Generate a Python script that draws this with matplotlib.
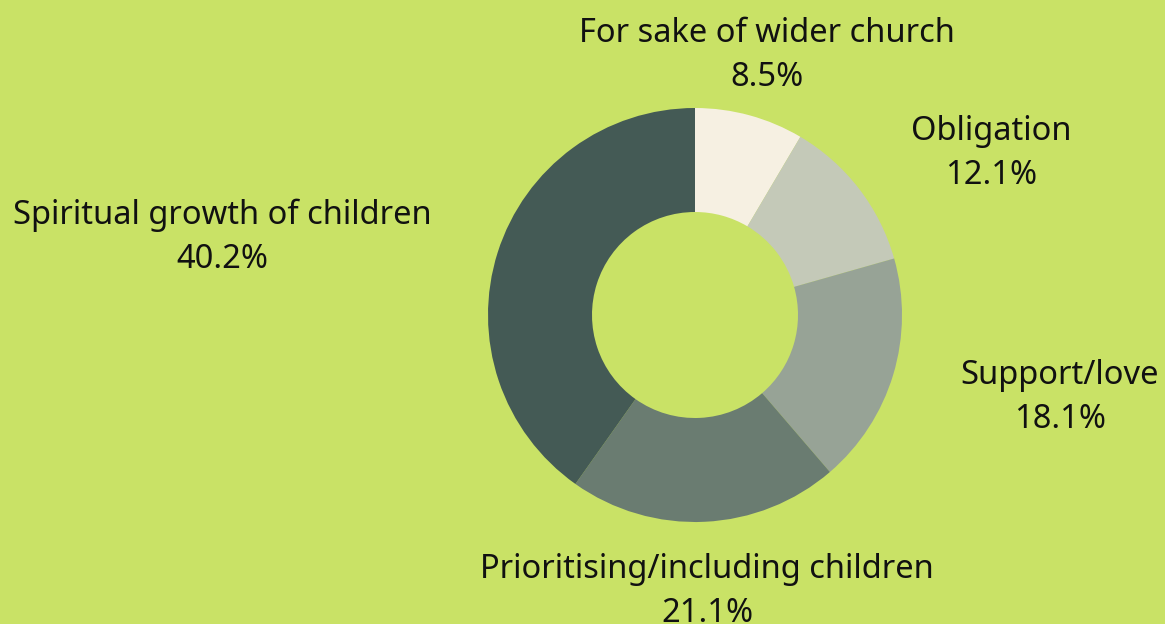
import matplotlib.pyplot as plt

labels = ['For sake of wider church', 'Obligation', 'Support/love',
          'Prioritising/including children', 'Spiritual growth of children']
shares = [8.5, 12.1, 18.1, 21.1, 40.2]
colors = ['#f6f0e2', '#c4c9b8', '#97a396', '#6a7c71', '#445a55']
bg = '#c9e266'

W, H = 1165, 624
fig = plt.figure(figsize=(W / 100, H / 100), dpi=100, facecolor=bg)
ax = fig.add_axes([0, 0, 1, 1])
ax.set_facecolor(bg)

cx, cy, r = 695, H - 315, 207
ax.pie(shares, colors=colors, startangle=90, counterclock=False,
       center=(cx, cy), radius=r, frame=True,
       wedgeprops=dict(width=104, linewidth=0))
ax.set_xlim(0, W)
ax.set_ylim(0, H)
ax.set_aspect('equal')
ax.axis('off')

# label anchor points (pixel coords, top-down)
label_pos = [(767, 33), (991, 131), (1060, 376), (707, 570), (222, 215)]
for name, val, (x, y) in zip(labels, shares, label_pos):
    ax.text(x, H - y, name, ha='center', va='center', fontsize=23.5,
            family='Noto Sans', color='#111111')
    ax.text(x, H - y - 44, f'{val}%', ha='center', va='center', fontsize=23.5,
            family='Noto Sans', color='#111111')

fig.savefig('out.png', dpi=100, facecolor=bg)
